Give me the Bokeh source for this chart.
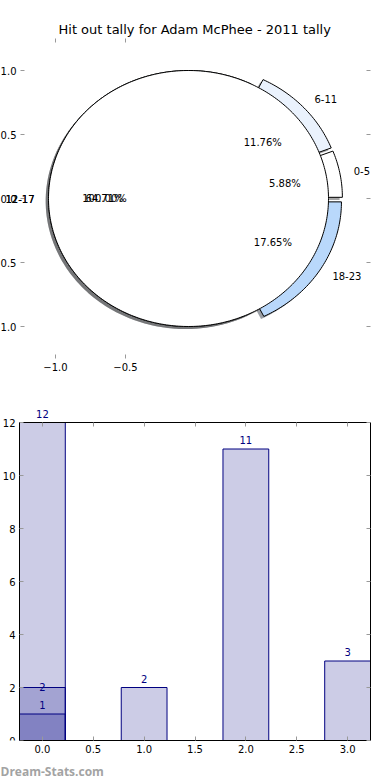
import math
from bokeh.plotting import figure
from bokeh.models import (LinearAxis, FixedTicker, Title, ColumnDataSource,
                          Label, Range1d)
from bokeh.layouts import column
from bokeh.embed import file_html
from bokeh.resources import INLINE

# ---------------- data ----------------
title_text = "Hit out tally for Adam McPhee - 2011 tally"
pie_labels = ["0-5", "6-11", "12-17", "18-23"]
pie_values = [1, 2, 11, 3]
pie_colors = ["#ffffff", "#eaf2fd", "#d4e5fa", "#b9d8fb"]
overlay_labels = ["12-17"]
overlay_values = [17]
overlay_colors = ["#ffffff"]

bar_x = [0, 1, 2, 3]
bar_values = [1, 2, 11, 3]
extra_x = [0, 0]
extra_values = [2, 12]

pie_xticks = [-1.0, -0.5]
pie_yticks = [-1.0, -0.5, 0.0, 0.5, 1.0]
bar_xticks = [0.0, 0.5, 1.0, 1.5, 2.0, 2.5, 3.0]
bar_yticks = [0, 2, 4, 6, 8, 10, 12]
watermark = "Dream-Stats.com"

FONT = "DejaVu Sans"
TICK_COLOR = "#999999"
ROOT_LEFT = -50          # page x of the figures' left edge
FRAME_LEFT = -10         # page x where both (invisible) frames start
FRAME_RIGHT = 370        # page x where both frames end
BORDER_LEFT = FRAME_LEFT - ROOT_LEFT
FRAME_W = FRAME_RIGHT - FRAME_LEFT


def fmt_minus(v, fmt):
    return fmt.format(v).replace("-", "\u2212")


def style_axis(ax, labels=True, line=None):
    ax.major_tick_in = 4
    ax.major_tick_out = 0
    ax.minor_tick_line_color = None
    ax.major_tick_line_color = TICK_COLOR
    ax.major_tick_line_width = 1
    ax.axis_line_color = line
    ax.axis_line_width = 1
    if labels:
        ax.major_label_text_font = FONT
        ax.major_label_text_font_size = "10px"
        ax.major_label_text_color = "#000000"
        ax.major_label_standoff = 4
    else:
        ax.major_label_text_font_size = "0px"
        ax.major_label_text_color = None
        ax.major_label_standoff = 0


def add_text(p, x, y, text, align="center", color="#000000", y_offset=0):
    p.add_layout(Label(x=x, y=y, text=text, text_font=FONT,
                       text_font_size="10px", text_color=color,
                       text_align=align, text_baseline="middle",
                       y_offset=y_offset))


# ---------------- pie ----------------
EXPLODE = 0.05
SHADOW = (-0.02, -0.02)
PIE_LIM = 1.25
PIE_AXIS_LEFT = 20                   # page x of the drawn left axis
PIE_PX = (FRAME_RIGHT - PIE_AXIS_LEFT) / (2 * PIE_LIM)


def wedge_poly(a0, a1, cx, cy, full=False):
    n = max(8, int(abs(a1 - a0) * 180 / math.pi))
    xs, ys = ([], []) if full else ([cx], [cy])
    for i in range(n + 1):
        a = a0 + (a1 - a0) * i / n
        xs.append(cx + math.cos(a))
        ys.append(cy + math.sin(a))
    return xs, ys


def shade(c):
    c = c.lstrip("#")
    r, g, b = (int(c[i:i + 2], 16) for i in (0, 2, 4))
    return "#%02x%02x%02x" % (int(r * 0.3), int(g * 0.3), int(b * 0.3))


def pie_geometry(values, colors):
    total = float(sum(values))
    out = []
    a = 0.0
    for v, c in zip(values, colors):
        span = 2 * math.pi * v / total
        mid = a + span / 2
        cx, cy = EXPLODE * math.cos(mid), EXPLODE * math.sin(mid)
        full = abs(span - 2 * math.pi) < 1e-9
        xs, ys = wedge_poly(a, a + span, cx, cy, full)
        out.append(dict(xs=xs, ys=ys, mid=mid, cx=cx, cy=cy, color=c,
                        pct=100.0 * v / total))
        a += span
    return out


main = pie_geometry(pie_values, pie_colors)
over = pie_geometry(overlay_values, overlay_colors)

pie_x_start = -PIE_LIM - (PIE_AXIS_LEFT - FRAME_LEFT) / PIE_PX

p1 = figure(output_backend="svg", toolbar_location=None,
            x_range=Range1d(pie_x_start, PIE_LIM),
            y_range=Range1d(-PIE_LIM, PIE_LIM),
            frame_width=FRAME_W, frame_height=320,
            min_border_left=BORDER_LEFT, min_border_right=20,
            min_border_top=38, min_border_bottom=32)
p1.outline_line_color = None
p1.background_fill_color = "#ffffff"
p1.border_fill_color = "#ffffff"
p1.xgrid.visible = False
p1.ygrid.visible = False

for w in main + over:
    p1.patch([x + SHADOW[0] for x in w["xs"]], [y + SHADOW[1] for y in w["ys"]],
             fill_color=shade(w["color"]), fill_alpha=0.5, line_color=None)
for w in main + over:
    p1.patch(w["xs"], w["ys"], fill_color=w["color"], line_color="#000000",
             line_width=1)

for group, labels in ((main, pie_labels), (over, overlay_labels)):
    for w, lab in zip(group, labels):
        lx = w["cx"] + 1.1 * math.cos(w["mid"])
        ly = w["cy"] + 1.1 * math.sin(w["mid"])
        px = w["cx"] + 0.6 * math.cos(w["mid"])
        py = w["cy"] + 0.6 * math.sin(w["mid"])
        add_text(p1, lx, ly, lab, align="left" if lx > 0 else "right")
        add_text(p1, px, py, "%.2f%%" % w["pct"])

p1.title.text = title_text
p1.title.align = "left"
p1.title.offset = 58 - FRAME_LEFT
p1.title.text_font = FONT
p1.title.text_font_size = "13px"
p1.title.text_font_style = "normal"
p1.title.text_color = "#000000"
p1.title.standoff = 3

xa = p1.xaxis[0]
ya = p1.yaxis[0]
style_axis(xa)
style_axis(ya)
xa.ticker = FixedTicker(ticks=pie_xticks)
ya.ticker = FixedTicker(ticks=pie_yticks)
xa.major_label_overrides = {t: fmt_minus(t, "{:.1f}") for t in pie_xticks}
ya.major_label_overrides = {t: fmt_minus(t, "{:.1f}") for t in pie_yticks}
ya.fixed_location = -PIE_LIM

top1 = LinearAxis(ticker=FixedTicker(ticks=pie_xticks))
right1 = LinearAxis(ticker=FixedTicker(ticks=pie_yticks))
style_axis(top1, labels=False)
style_axis(right1, labels=False)
p1.add_layout(top1, "above")
p1.add_layout(right1, "right")

# ---------------- bars ----------------
BAR_XMIN, BAR_XMAX = -0.225, 3.225
BAR_AXIS_LEFT = 19                  # page x of the box's left side
BAR_XPX = (FRAME_RIGHT - BAR_AXIS_LEFT) / (BAR_XMAX - BAR_XMIN)
bar_x_start = BAR_XMIN - (BAR_AXIS_LEFT - FRAME_LEFT) / BAR_XPX
BAR_YMAX = 12
BAR_PX = 26.5                       # pixels per unit along y
BAR_HEADROOM = 22                   # px of frame kept above the box for labels
bar_y_end = BAR_YMAX + BAR_HEADROOM / BAR_PX

p2 = figure(output_backend="svg", toolbar_location=None,
            x_range=Range1d(bar_x_start, BAR_XMAX), y_range=Range1d(0, bar_y_end),
            frame_width=FRAME_W, frame_height=int(BAR_YMAX * BAR_PX) + BAR_HEADROOM,
            min_border_left=BORDER_LEFT, min_border_right=20,
            min_border_top=10, min_border_bottom=40)
p2.outline_line_color = None
p2.border_fill_color = "#ffffff"
p2.xgrid.visible = False
p2.ygrid.visible = False

src_main = ColumnDataSource(dict(x=bar_x, top=bar_values))
src_extra = ColumnDataSource(dict(x=extra_x, top=extra_values))
for src in (src_main, src_extra):
    p2.vbar(x="x", top="top", width=0.45, source=src, fill_color="navy",
            fill_alpha=0.2, line_color="navy", line_width=1)

for xv, tv in zip(bar_x, bar_values):
    add_text(p2, xv, tv, str(tv), color="navy", y_offset=9)
for i, (xv, tv) in enumerate(zip(extra_x, extra_values)):
    # the stacked "2" label at the first slot sits right on its bar top
    add_text(p2, xv, tv, str(tv), color="navy", y_offset=1 if i == 0 else 9)

bx = p2.xaxis[0]
by = p2.yaxis[0]
style_axis(bx, line="#000000")
style_axis(by, line="#000000")
bx.ticker = FixedTicker(ticks=bar_xticks)
by.ticker = FixedTicker(ticks=bar_yticks)
bx.major_label_overrides = {t: "{:.1f}".format(t) for t in bar_xticks}
by.major_label_overrides = {t: "{:.0f}".format(t) for t in bar_yticks}
bx.bounds = (BAR_XMIN, BAR_XMAX)
by.bounds = (0, BAR_YMAX)
by.fixed_location = BAR_XMIN

top2 = LinearAxis(ticker=FixedTicker(ticks=bar_xticks))
right2 = LinearAxis(ticker=FixedTicker(ticks=bar_yticks))
style_axis(top2, labels=False, line="#000000")
style_axis(right2, labels=False, line="#000000")
top2.fixed_location = BAR_YMAX
top2.bounds = (BAR_XMIN, BAR_XMAX)
right2.bounds = (0, BAR_YMAX)
p2.add_layout(top2, "above")
p2.add_layout(right2, "right")

p2.add_layout(Title(text=watermark, align="left", offset=0 - FRAME_LEFT,
                    text_color="#a3a3a3", text_font="Open Sans",
                    text_font_size="12px", text_font_style="bold"), "below")

root = column(p1, p2, styles={"position": "absolute",
                              "left": "%dpx" % ROOT_LEFT, "top": "0px"},
              spacing=0)

open("out.html", "w").write(file_html(root, INLINE))
